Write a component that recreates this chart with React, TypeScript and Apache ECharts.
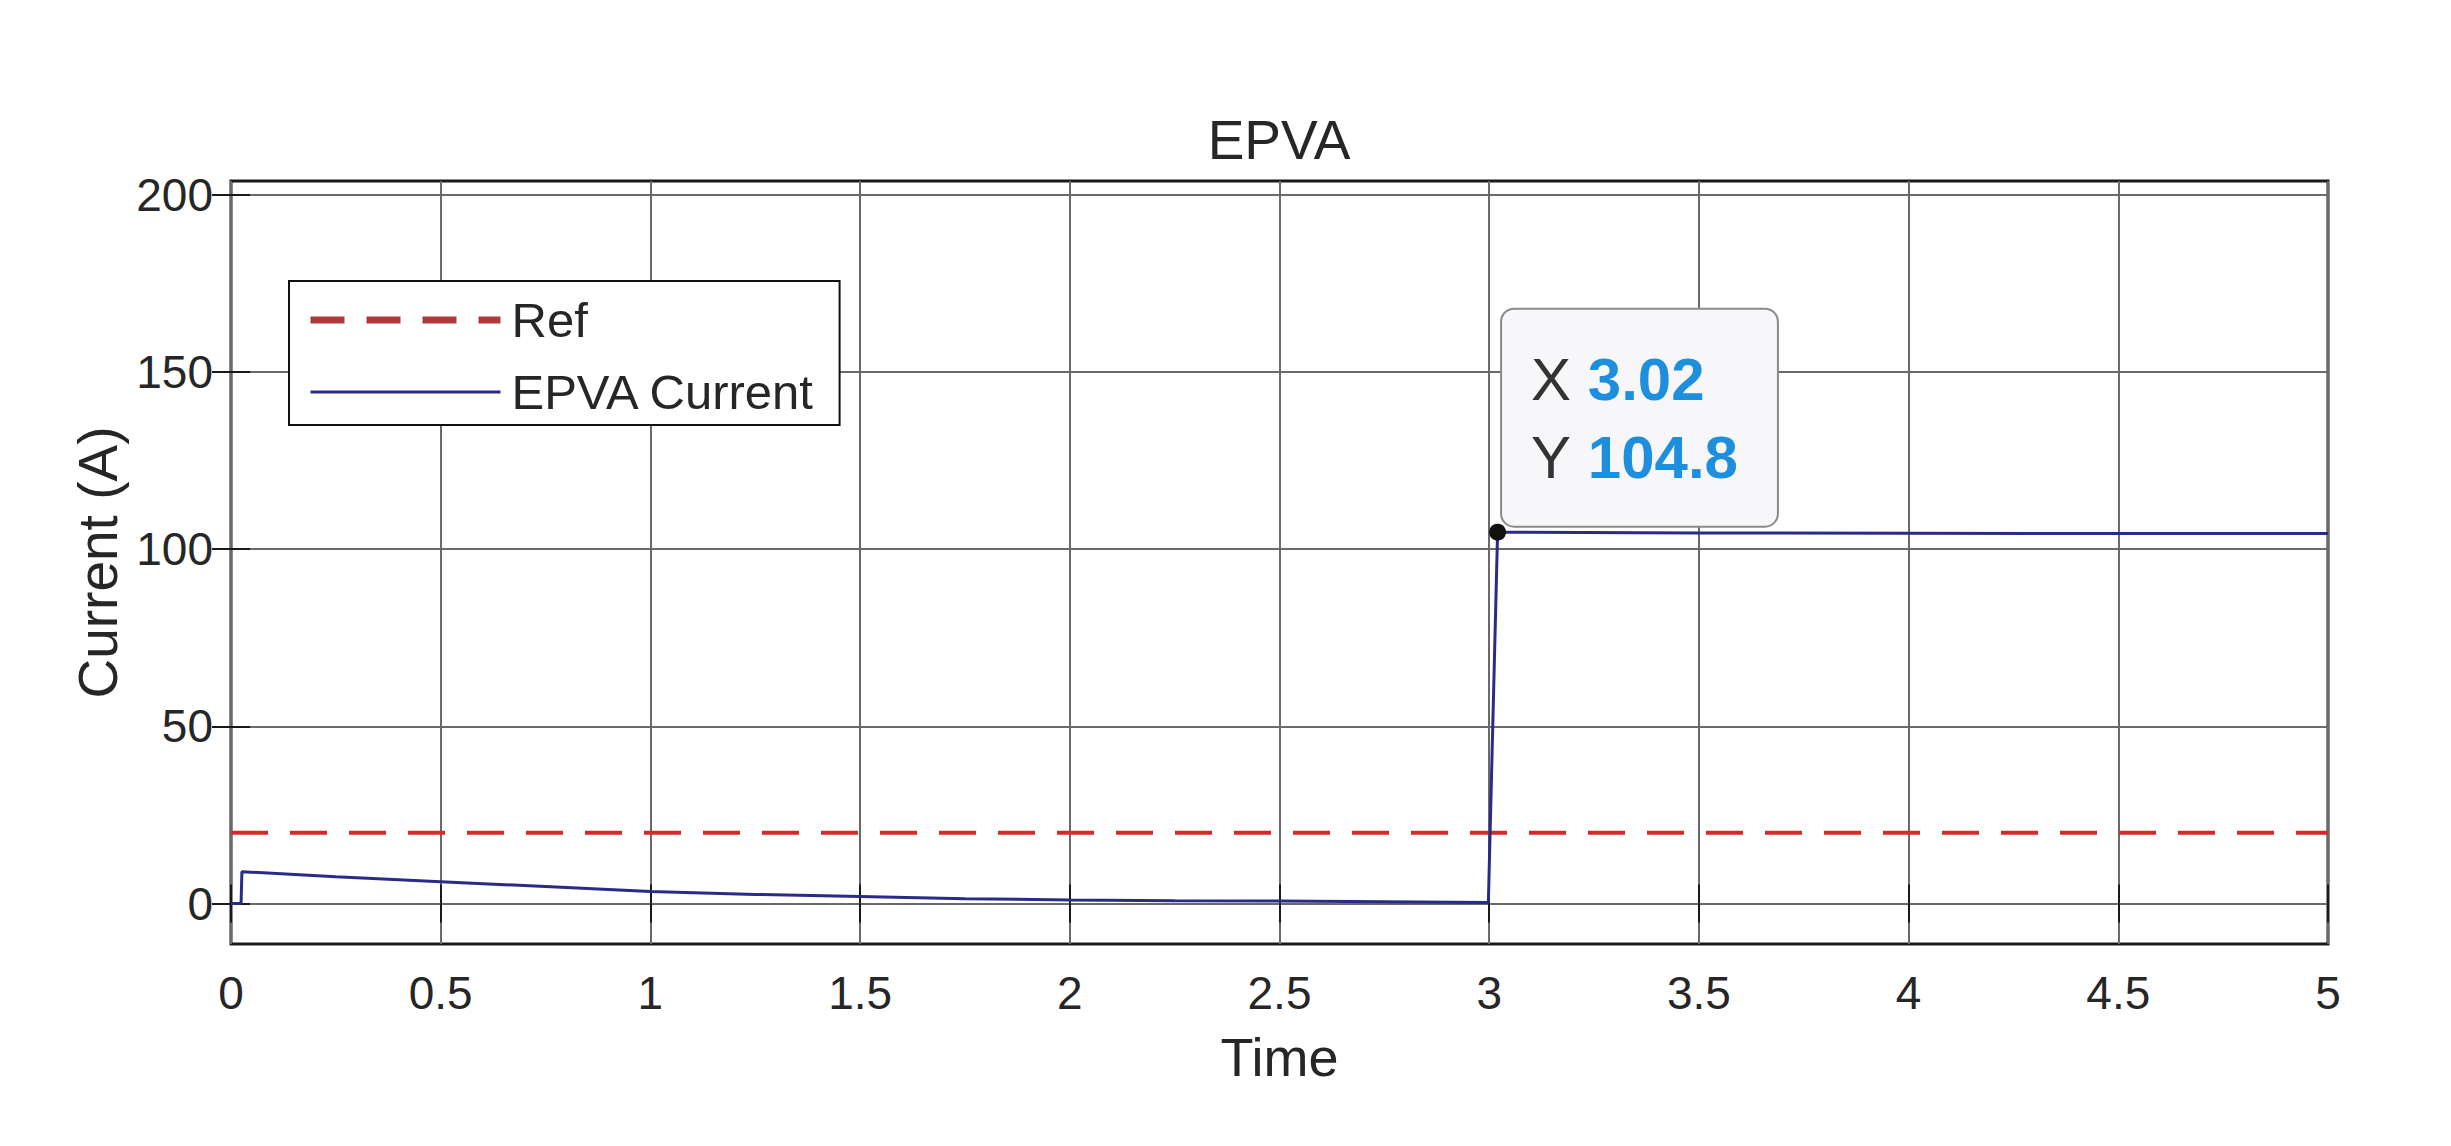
import React, { useEffect, useRef } from "react";
import * as echarts from "echarts";

const titleText = "EPVA";
const xName = "Time";
const yName = "Current (A)";
const seriesNames = ["Ref", "EPVA Current"];

const xMin = 0;
const xMax = 5;
const xInterval = 0.5;
const yMin = -11.4;
const yMax = 203.9;
const yTicks = [0, 50, 100, 150, 200];

const refTime = [0, 5];
const refValue = [20, 20];

const timeS = [0, 0.024, 0.026, 0.25, 0.5, 0.75, 1.0, 1.25, 1.5, 1.75, 2.0, 2.25, 2.5, 2.75, 2.998, 3.02, 3.5, 4.0, 4.5, 5.0];
const currentA = [0, 0, 9.0, 7.6, 6.2, 4.8, 3.4, 2.6, 2.0, 1.4, 1.0, 0.8, 0.7, 0.5, 0.3, 104.8, 104.6, 104.5, 104.4, 104.4];

const tipX = 3.02;
const tipY = 104.8;

const FONT = "'Liberation Sans', Arial, Helvetica, sans-serif";
const TXT = "#262626";
const RED = "#d42a2a";
const BLUE = "#2a2a88";

export default function App() {
  const ref = useRef<HTMLDivElement>(null);
  useEffect(() => {
    if (!ref.current) return;
    const chart = echarts.init(ref.current, undefined, { renderer: "svg" });
    const refData = refTime.map((t, i) => [t, refValue[i]]);
    const curData = timeS.map((t, i) => [t, currentA[i]]);
    const tickStyle = { show: true, inside: true, length: 19, lineStyle: { color: "#1a1a1a", width: 2 } };
    const gridLine = { show: true, lineStyle: { color: "#6a6a6a", width: 2 } };
    chart.setOption({
      animation: false,
      backgroundColor: "#ffffff",
      textStyle: { fontFamily: FONT },
      title: {
        text: titleText,
        left: 1279,
        top: 112,
        textAlign: "center",
        padding: 0,
        textStyle: { fontFamily: FONT, fontSize: 55, fontWeight: "normal", color: TXT },
      },
      grid: {
        left: 231,
        right: 123,
        top: 181,
        bottom: 202,
        show: true,
        borderColor: "#1a1a1a",
        borderWidth: 3,
      },
      legend: {
        data: [
          { name: seriesNames[0], lineStyle: { color: "#b03a3a", width: 7, type: [34, 22] } },
          { name: seriesNames[1], lineStyle: { color: BLUE, width: 3, type: "solid" } },
        ],
        orient: "vertical",
        left: 289,
        top: 281,
        selectedMode: false,
        backgroundColor: "#ffffff",
        borderColor: "#111111",
        borderWidth: 2,
        borderRadius: 0,
        padding: [12, 24, 6, 18],
        itemWidth: 190,
        itemHeight: 20,
        itemGap: 18,
        itemStyle: { opacity: 0 },
        textStyle: { fontFamily: FONT, fontSize: 49, lineHeight: 54, color: TXT, padding: [0, 0, 0, 6] },
      },
      xAxis: [
        {
          type: "value",
          min: xMin,
          max: xMax,
          interval: xInterval,
          position: "bottom",
          name: xName,
          nameLocation: "middle",
          nameGap: 86,
          nameTextStyle: { fontFamily: FONT, fontSize: 54, color: TXT },
          axisLine: { show: false },
          axisTick: tickStyle,
          axisLabel: { margin: 26, fontFamily: FONT, fontSize: 46, color: TXT },
          splitLine: gridLine,
        },
        {
          type: "value",
          min: xMin,
          max: xMax,
          interval: xInterval,
          position: "top",
          axisLine: { show: false },
          axisTick: tickStyle,
          axisLabel: { show: false },
          splitLine: { show: false },
        },
      ],
      yAxis: [
        {
          type: "value",
          min: yMin,
          max: yMax,
          position: "left",
          name: yName,
          nameLocation: "middle",
          nameGap: 106,
          nameTextStyle: { fontFamily: FONT, fontSize: 55, color: TXT },
          axisLine: { show: false },
          axisTick: { ...tickStyle, customValues: yTicks },
          axisLabel: { margin: 18, fontFamily: FONT, fontSize: 46, color: TXT, customValues: yTicks },
          splitLine: gridLine,
        },
        {
          type: "value",
          min: yMin,
          max: yMax,
          position: "right",
          axisLine: { show: false },
          axisTick: { ...tickStyle, customValues: yTicks },
          axisLabel: { show: false, customValues: yTicks },
          splitLine: { show: false },
        },
      ],
      series: [
        {
          name: seriesNames[0],
          type: "line",
          data: refData,
          symbol: "none",
          color: RED,
          lineStyle: { color: RED, width: 4, type: [37, 22] },
          z: 3,
        },
        {
          name: seriesNames[1],
          type: "line",
          data: curData,
          symbol: "none",
          color: BLUE,
          lineStyle: { color: BLUE, width: 3 },
          z: 4,
          markPoint: {
            symbol: "circle",
            symbolSize: 17,
            itemStyle: { color: "#111111", borderColor: "#111111", borderWidth: 0 },
            data: [{ coord: [tipX, tipY], value: tipY }],
            label: {
              show: true,
              position: [13, 2],
              align: "left",
              verticalAlign: "bottom",
              formatter: () => `{k|X }{v|${tipX}}\n{k|Y }{v|${tipY}}`,
              backgroundColor: "#f7f7f9",
              borderColor: "#8a8a8a",
              borderWidth: 2,
              borderRadius: 12,
              padding: [31, 39, 29, 29],
              lineHeight: 78,
              rich: {
                k: { fontFamily: FONT, fontSize: 60, color: "#333333", lineHeight: 78 },
                v: { fontFamily: FONT, fontSize: 60, fontWeight: "bold", color: "#1e8fdc", lineHeight: 78 },
              },
            },
          },
        },
      ],
    });
    return () => chart.dispose();
  }, []);
  return (
    <div
      ref={ref}
      style={{ position: "fixed", left: 0, top: 0, width: 2451, height: 1146, background: "#fff" }}
    />
  );
}
